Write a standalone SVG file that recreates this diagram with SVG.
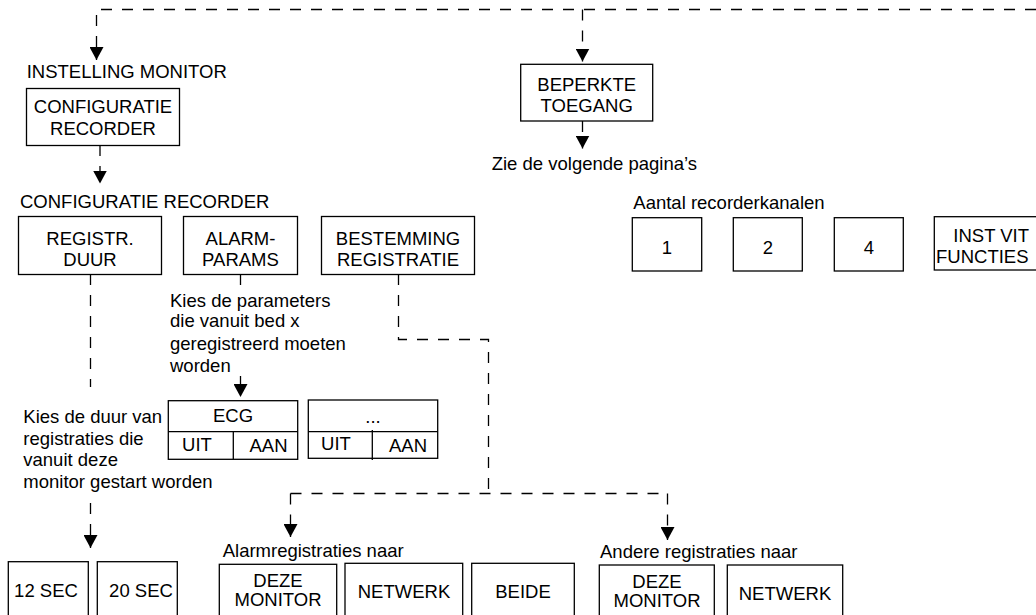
<svg xmlns="http://www.w3.org/2000/svg" width="1036" height="615" viewBox="0 0 1036 615">
  <style>
    text { font-family: "Liberation Sans", Arial, Helvetica, sans-serif; font-size: 18.5px; fill: #000; }
    .c { text-anchor: middle; }
    .box { fill: #fff; stroke: #000; stroke-width: 1.3; }
    .line { fill: none; stroke: #000; stroke-width: 1.3; }
    .dash { fill: none; stroke: #000; stroke-width: 1.3; stroke-dasharray: 11 10; }
    .arrow { marker-end: url(#head); }
  </style>
  <defs>
    <marker id="head" viewBox="0 0 13 14" refX="13" refY="7" markerWidth="13" markerHeight="14" markerUnits="userSpaceOnUse" orient="auto">
      <path d="M0,0 L13,7 L0,14 Z" fill="#000"/>
    </marker>
  </defs>

  <rect width="1036" height="615" fill="#fff"/>

  <!-- dashed connectors -->
  <g id="connectors">
    <path class="dash arrow" d="M1036 9.5 H96.5 V60"/>
    <path class="dash arrow" d="M582.5 9.5 V61.5"/>
    <path class="dash arrow" d="M582.5 121 V148.5"/>
    <path class="dash arrow" d="M100 145 V183.5"/>
    <path class="dash" d="M90.5 274 V387"/>
    <path class="dash arrow" d="M90.5 503 V548"/>
    <!-- interrupted where the parameter note sits over it -->
    <path class="dash" d="M240.5 274 V293"/>
    <path class="dash arrow" d="M240.5 376 V397"/>
    <path class="dash" d="M398.5 274 V339.5 H488.5 V493.5"/>
    <path class="dash" d="M290.5 493.5 H667.5"/>
    <path class="dash arrow" d="M290.5 493.5 V537"/>
    <path class="dash arrow" d="M667.5 493.5 V540"/>
  </g>

  <!-- free labels -->
  <g id="labels">
    <text x="26.7" y="77.7">INSTELLING MONITOR</text>
    <text x="20" y="208.3">CONFIGURATIE RECORDER</text>
    <text x="491.7" y="170.3">Zie de volgende pagina’s</text>
    <text x="633.3" y="209">Aantal recorderkanalen</text>
    <text x="170" y="307">Kies de parameters</text>
    <text x="170" y="327">die vanuit bed x</text>
    <text x="170" y="349.5">geregistreerd moeten</text>
    <text x="170" y="371.5">worden</text>
    <text x="23.3" y="423.3">Kies de duur van</text>
    <text x="23.3" y="445">registraties die</text>
    <text x="23.3" y="466">vanuit deze</text>
    <text x="23.3" y="488.3">monitor gestart worden</text>
    <text x="222.7" y="556.7">Alarmregistraties naar</text>
    <text x="600" y="558.3">Andere registraties naar</text>
  </g>

  <g id="configuratie-recorder">
    <rect class="box" x="26.5" y="88.5" width="153" height="57"/>
    <text class="c" x="103" y="113.3">CONFIGURATIE</text>
    <text class="c" x="103" y="135">RECORDER</text>
  </g>

  <g id="beperkte-toegang">
    <rect class="box" x="520.7" y="64.3" width="132" height="56.7"/>
    <text class="c" x="586.7" y="90.7">BEPERKTE</text>
    <text class="c" x="586.7" y="111.7">TOEGANG</text>
  </g>

  <g id="registr-duur">
    <rect class="box" x="18.5" y="216.5" width="143" height="58"/>
    <text class="c" x="90" y="245">REGISTR.</text>
    <text class="c" x="90" y="266">DUUR</text>
  </g>

  <g id="alarm-params">
    <rect class="box" x="183.5" y="216.5" width="114" height="58"/>
    <text class="c" x="240.5" y="245">ALARM-</text>
    <text class="c" x="240.5" y="266">PARAMS</text>
  </g>

  <g id="bestemming-registratie">
    <rect class="box" x="321.5" y="216.5" width="153" height="58"/>
    <text class="c" x="398" y="245">BESTEMMING</text>
    <text class="c" x="398" y="266">REGISTRATIE</text>
  </g>

  <g id="kanalen-1">
    <rect class="box" x="632.3" y="217.7" width="69.4" height="53.3"/>
    <text class="c" x="667" y="254">1</text>
  </g>
  <g id="kanalen-2">
    <rect class="box" x="733.3" y="217.7" width="69" height="53.3"/>
    <text class="c" x="768" y="254">2</text>
  </g>
  <g id="kanalen-4">
    <rect class="box" x="834.3" y="217.7" width="69" height="53.3"/>
    <text class="c" x="869" y="254">4</text>
  </g>
  <g id="inst-vit-functies">
    <rect class="box" x="934.3" y="216.7" width="120" height="53.3"/>
    <text x="953.3" y="241.7">INST VIT</text>
    <text x="936" y="262.7">FUNCTIES</text>
  </g>

  <g id="param-ecg">
    <rect class="box" x="168.3" y="400.7" width="129.4" height="58.6"/>
    <path class="line" d="M168.3 431.7 H297.7 M233.3 431.7 V459.3"/>
    <text class="c" x="233" y="421.7">ECG</text>
    <text class="c" x="197" y="450.7">UIT</text>
    <text class="c" x="268.5" y="451.7">AAN</text>
  </g>

  <g id="param-overig">
    <rect class="box" x="308.3" y="400" width="129.4" height="58.3"/>
    <path class="line" d="M308.3 431.7 H437.7 M372.3 430 V460"/>
    <text class="c" x="373" y="422.7">...</text>
    <text class="c" x="336" y="450">UIT</text>
    <text class="c" x="408" y="451.7">AAN</text>
  </g>

  <g id="duur-12">
    <rect class="box" x="8.3" y="561.7" width="80" height="70"/>
    <text class="c" x="46" y="596.7">12 SEC</text>
  </g>
  <g id="duur-20">
    <rect class="box" x="97.3" y="561.7" width="80" height="70"/>
    <text class="c" x="141" y="596.7">20 SEC</text>
  </g>

  <g id="alarm-deze-monitor">
    <rect class="box" x="219.3" y="564.3" width="117.4" height="70"/>
    <text class="c" x="278" y="586.7">DEZE</text>
    <text class="c" x="278" y="606">MONITOR</text>
  </g>
  <g id="alarm-netwerk">
    <rect class="box" x="345" y="563.3" width="117.7" height="70"/>
    <text class="c" x="404" y="598.3">NETWERK</text>
  </g>
  <g id="alarm-beide">
    <rect class="box" x="471.7" y="563.3" width="102.6" height="70"/>
    <text class="c" x="523" y="598.3">BEIDE</text>
  </g>

  <g id="andere-deze-monitor">
    <rect class="box" x="599.3" y="565" width="115" height="70"/>
    <text class="c" x="657" y="588.3">DEZE</text>
    <text class="c" x="657" y="607.3">MONITOR</text>
  </g>
  <g id="andere-netwerk">
    <rect class="box" x="727.3" y="565" width="115.4" height="70"/>
    <text class="c" x="785" y="600">NETWERK</text>
  </g>
</svg>
